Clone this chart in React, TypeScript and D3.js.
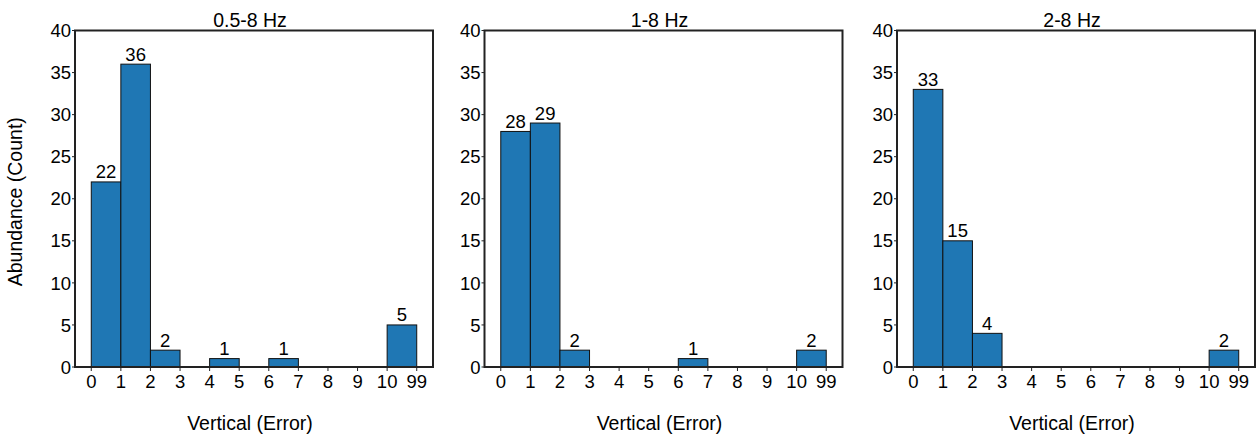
import React from "react";
import * as d3 from "d3";

const binLabels = ["0", "1", "2", "3", "4", "5", "6", "7", "8", "9", "10", "99"];
const panelTitles = ["0.5-8 Hz", "1-8 Hz", "2-8 Hz"];
const counts05 = [22, 36, 2, 0, 1, 0, 1, 0, 0, 0, 5];
const counts1 = [28, 29, 2, 0, 0, 0, 1, 0, 0, 0, 2];
const counts2 = [33, 15, 4, 0, 0, 0, 0, 0, 0, 0, 2];
const yTicks = [0, 5, 10, 15, 20, 25, 30, 35, 40];
const panelData = [counts05, counts1, counts2];

const W = 1256;
const H = 437;
const panelLefts = [75, 484.5, 897];
const PW = 358;
const TOP = 30.5;
const PH = 336.5;
const FONT = "'Liberation Sans', Arial, sans-serif";

function Panel({ left, title, counts, showYLabel }: { left: number; title: string; counts: number[]; showYLabel: boolean }) {
  const x = d3.scaleLinear().domain([-0.55, 11.55]).range([0, PW]);
  const y = d3.scaleLinear().domain([0, 40]).range([PH, 0]);
  return (
    <g transform={`translate(${left},${TOP})`}>
      {counts.map((c, i) =>
        c > 0 ? (
          <g key={i}>
            <rect
              x={x(i)}
              y={y(c)}
              width={x(i + 1) - x(i)}
              height={y(0) - y(c)}
              fill="#1f77b4"
              stroke="#111"
              strokeWidth={1}
            />
            <text
              x={(x(i) + x(i + 1)) / 2}
              y={y(c) - 3.5}
              textAnchor="middle"
              fontSize={18.5}
              fontFamily={FONT}
              fill="#000"
            >
              {c}
            </text>
          </g>
        ) : null
      )}
      <rect x={0} y={0} width={PW} height={PH} fill="none" stroke="#222" strokeWidth={2} />
      {yTicks.map((t) => (
        <g key={t} transform={`translate(0,${y(t)})`}>
          <line x1={-3} x2={0} stroke="#222" strokeWidth={1} />
          <text x={-4} dy="0.36em" textAnchor="end" fontSize={18.5} fontFamily={FONT} fill="#000">
            {t}
          </text>
        </g>
      ))}
      {binLabels.map((b, i) => (
        <g key={b} transform={`translate(${x(i)},${PH})`}>
          <line y1={0} y2={4} stroke="#222" strokeWidth={1} />
          <text y={20.5} textAnchor="middle" fontSize={18.5} fontFamily={FONT} fill="#000">
            {b}
          </text>
        </g>
      ))}
      <text x={PW / 2 - 4} y={-3.5} textAnchor="middle" fontSize={19.5} fontFamily={FONT} fill="#000">
        {title}
      </text>
      <text x={PW / 2 - 4} y={430 - TOP} textAnchor="middle" fontSize={19.5} fontFamily={FONT} fill="#000">
        Vertical (Error)
      </text>
      {showYLabel ? (
        <text
          transform={`translate(${-left + 22},${PH / 2 + 3}) rotate(-90)`}
          textAnchor="middle"
          fontSize={19.5}
          fontFamily={FONT}
          fill="#000"
        >
          Abundance (Count)
        </text>
      ) : null}
    </g>
  );
}

export default function App() {
  return (
    <svg width={W} height={H} style={{ position: "absolute", left: 0, top: 0, background: "#fff" }}>
      {panelData.map((c, k) => (
        <Panel key={k} left={panelLefts[k]} title={panelTitles[k]} counts={c} showYLabel={k === 0} />
      ))}
    </svg>
  );
}
